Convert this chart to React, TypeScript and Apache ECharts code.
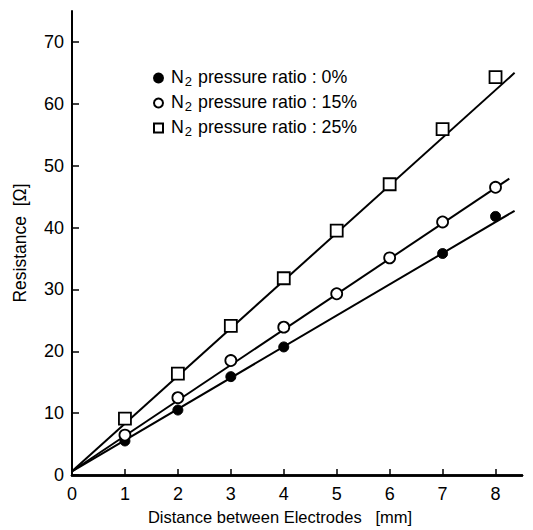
import React, { useEffect, useRef } from "react";
import * as echarts from "echarts";

const xTicks = [0, 1, 2, 3, 4, 5, 6, 7, 8];
const yTicks = [0, 10, 20, 30, 40, 50, 60, 70];

const distances = [1, 2, 3, 4, 5, 6, 7, 8];
const r0 = [[1, 5.5], [2, 10.5], [3, 15.9], [4, 20.7], [7, 35.8], [8, 41.8]];
const r15 = [6.45, 12.5, 18.5, 23.9, 29.3, 35.1, 40.9, 46.5];
const r25 = [9.1, 16.4, 24.1, 31.8, 39.5, 47.0, 55.9, 64.3];

const fit0 = [[0, 0.6], [8.36, 42.7]];
const fit15 = [[0, 0.6], [8.26, 47.9]];
const fit25 = [[0, 0.6], [8.36, 65.0]];

const legendNames = [
  "N2 pressure ratio : 0%",
  "N2 pressure ratio : 15%",
  "N2 pressure ratio : 25%",
];

const FONT = "'Liberation Sans', Arial, Helvetica, sans-serif";

export default function App() {
  const ref = useRef<HTMLDivElement>(null);
  useEffect(() => {
    if (!ref.current) return;
    const chart = echarts.init(ref.current, null, { renderer: "svg" });
    const lineStyle = { color: "#000", width: 2 };
    chart.setOption({
      animation: false,
      backgroundColor: "#fff",
      textStyle: { fontFamily: FONT, color: "#000" },
      grid: { left: 72, right: 11, top: 11, bottom: 54 },
      legend: {
        orient: "vertical",
        left: 148,
        top: 63,
        itemWidth: 9,
        itemHeight: 9,
        itemGap: 5,
        data: legendNames,
        formatter: (name: string) => {
          const rest = name.slice(2);
          return `{n|N}{s|2}{n|${rest}}`;
        },
        textStyle: {
          color: "#000",
          fontFamily: FONT,
          padding: [0, 0, 0, 3],
          rich: {
            n: { fontSize: 17.8, color: "#000", fontFamily: FONT, verticalAlign: "top", lineHeight: 19 },
            s: { fontSize: 13, color: "#000", fontFamily: FONT, verticalAlign: "top", padding: [7, 1, 0, 1] },
          },
        },
      },
      xAxis: [
        {
          type: "value",
          min: 0,
          max: 8.5,
          interval: 1,
          position: "bottom",
          name: "Distance between Electrodes   [mm]",
          nameLocation: "middle",
          nameGap: 33,
          nameTextStyle: { fontSize: 16.5, color: "#000", fontFamily: FONT, padding: [0, 34, 0, 0] },
          axisLine: { show: true, onZero: false, lineStyle: { color: "#000", width: 2.5 } },
          axisTick: { inside: true, length: 6, customValues: xTicks, lineStyle: { color: "#000", width: 1.5 } },
          axisLabel: { customValues: xTicks, fontSize: 18, color: "#000", margin: 10, fontFamily: FONT },
          splitLine: { show: false },
        },
        {
          type: "value",
          min: 0,
          max: 8.5,
          position: "top",
          axisLine: { show: true, lineStyle: { color: "#000", width: 2.5 } },
          axisTick: { show: false },
          axisLabel: { show: false },
          splitLine: { show: false },
        },
      ],
      yAxis: {
        type: "value",
        min: 0,
        max: 75,
        interval: 10,
        name: "Resistance  [\u03a9]",
        nameLocation: "middle",
        nameRotate: 90,
        nameGap: 43,
        nameTextStyle: { fontSize: 17.5, color: "#000", fontFamily: FONT },
        axisLine: { show: true, onZero: false, lineStyle: { color: "#000", width: 2 } },
        axisTick: { inside: true, length: 7, customValues: yTicks, lineStyle: { color: "#000", width: 1.5 } },
        axisLabel: { customValues: yTicks, fontSize: 18, color: "#000", margin: 8, fontFamily: FONT },
        splitLine: { show: false },
      },
      series: [
        { type: "line", data: fit0, symbol: "none", lineStyle, silent: true, z: 1 },
        { type: "line", data: fit15, symbol: "none", lineStyle, silent: true, z: 1 },
        { type: "line", data: fit25, symbol: "none", lineStyle, silent: true, z: 1 },
        {
          name: legendNames[0],
          type: "scatter",
          data: r0,
          symbol: "circle",
          symbolSize: 10,
          itemStyle: { color: "#000", borderColor: "#000", borderWidth: 1, opacity: 1 },
          z: 3,
        },
        {
          name: legendNames[1],
          type: "scatter",
          data: distances.map((d, i) => [d, r15[i]]),
          symbol: "circle",
          symbolSize: 11,
          itemStyle: { color: "#fff", borderColor: "#000", borderWidth: 1.8, opacity: 1 },
          z: 3,
        },
        {
          name: legendNames[2],
          type: "scatter",
          data: distances.map((d, i) => [d, r25[i]]),
          symbol: "rect",
          symbolSize: 12,
          itemStyle: { color: "#fff", borderColor: "#000", borderWidth: 1.8, opacity: 1 },
          z: 3,
        },
      ],
    });
    return () => chart.dispose();
  }, []);
  return <div ref={ref} style={{ width: 533, height: 530, position: "absolute", left: 0, top: 0 }} />;
}
